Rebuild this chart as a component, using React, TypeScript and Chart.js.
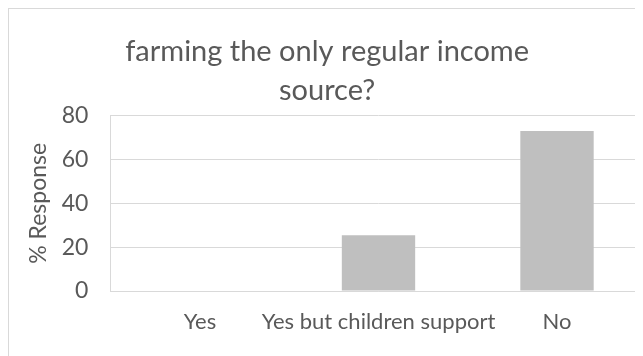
import React, { useEffect, useRef } from "react";
import { Chart, registerables } from "chart.js";

Chart.register(...registerables);

const categories: string[] = ["Yes", "Yes but children support", "No"];
const responses: number[] = [0, 25.4, 73];
const titleLines: string[] = ["farming the only regular income", "source?"];
const yAxisTitle = "% Response";
const yMin = 0;
const yMax = 80;
const yStep = 20;

const TEXT = "#595959";
const GRID = "#d9d9d9";
const BAR = "#bfbfbf";
const FONT = "Lato, 'Open Sans', sans-serif";

export default function App() {
  const ref = useRef<HTMLCanvasElement | null>(null);

  useEffect(() => {
    if (!ref.current) return;
    const chart = new Chart(ref.current, {
      type: "bar",
      data: {
        labels: categories,
        datasets: [
          {
            data: responses,
            backgroundColor: BAR,
            borderWidth: 0,
            barPercentage: 0.411,
            categoryPercentage: 1,
          },
        ],
      },
      options: {
        animation: false,
        responsive: false,
        maintainAspectRatio: false,
        devicePixelRatio: 1,
        layout: { padding: { left: 0, top: 0, right: 37.75, bottom: 0 } },
        plugins: {
          legend: { display: false },
          tooltip: { enabled: false },
          title: {
            display: true,
            text: titleLines,
            color: TEXT,
            font: { family: FONT, size: 29, weight: "normal", lineHeight: 1.334 },
            padding: { top: 24.4, bottom: 5.9 },
          },
        },
        scales: {
          x: {
            grid: { display: false, drawTicks: false },
            border: { display: true, color: GRID, width: 1 },
            ticks: {
              color: TEXT,
              font: { family: FONT, size: 22 },
              padding: 17.3,
              maxRotation: 0,
              autoSkip: false,
            },
            afterFit: (scale: any) => {
              scale.height = 77;
            },
          },
          y: {
            min: yMin,
            max: yMax,
            grid: { color: GRID, lineWidth: 1, drawTicks: false },
            border: { display: true, color: GRID, width: 1 },
            ticks: {
              stepSize: yStep,
              color: TEXT,
              font: { family: FONT, size: 23 },
              padding: 22.4,
            },
            title: {
              display: true,
              text: yAxisTitle,
              color: TEXT,
              font: { family: FONT, size: 23 },
              padding: { top: 17.1, bottom: 0 },
            },
            afterFit: (scale: any) => {
              scale.width = 102.75;
            },
          },
        },
      },
    });
    return () => chart.destroy();
  }, []);

  return (
    <div style={{ width: 635, height: 348, overflow: "hidden", position: "relative" }}>
      <div style={{ position: "relative", width: 676, height: 360 }}>
        <canvas ref={ref} width={676} height={360} style={{ display: "block", width: 676, height: 360 }} />
        <div
          style={{
            position: "absolute",
            left: 0,
            top: 0,
            width: 676,
            height: 360,
            boxSizing: "border-box",
            border: `1px solid ${GRID}`,
            pointerEvents: "none",
          }}
        />
      </div>
    </div>
  );
}
